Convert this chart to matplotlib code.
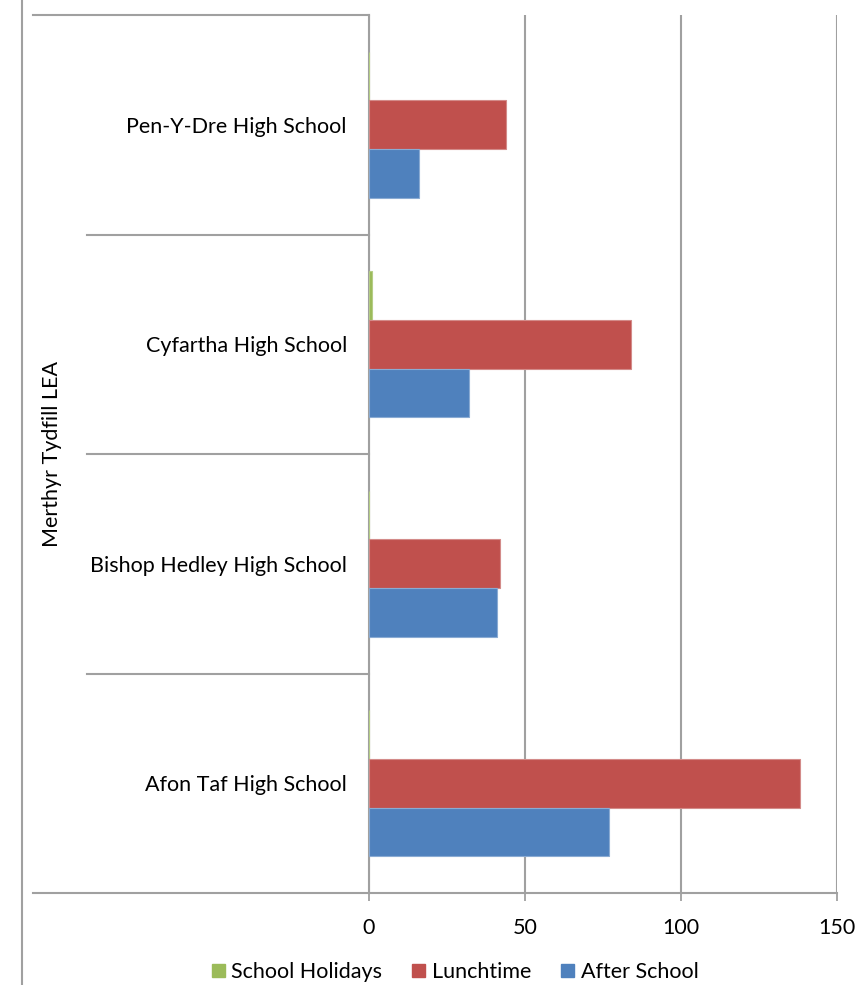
import numpy as np
import matplotlib.pyplot as plt
from matplotlib.lines import Line2D
from matplotlib.patches import Patch

schools = ['Afon Taf High School', 'Bishop Hedley High School',
           'Cyfartha High School', 'Pen-Y-Dre High School']
holidays = [0, 0, 1, 0]
lunchtime = [138, 42, 84, 44]
after_school = [77, 41, 32, 16]

green = '#9BBB59'
red = '#C0504D'
blue = '#4F81BD'
grey = '#A0A0A0'

plt.rcParams['font.family'] = ['Lato', 'DejaVu Sans']
fs = 15.5

W, H = 859, 985
fig = plt.figure(figsize=(W / 100, H / 100), dpi=100)
x0, x1, ytop, ybot = 369, 837, 15, 893
ax = fig.add_axes([x0 / W, 1 - ybot / H, (x1 - x0) / W, (ybot - ytop) / H])

y = np.arange(len(schools))
h = 0.222
ax.barh(y + h, holidays, h, color=green, edgecolor='#B5CD85', linewidth=0.8, zorder=3)
ax.barh(y, lunchtime, h, color=red, edgecolor='#D38B89', linewidth=0.8, zorder=3)
ax.barh(y - h, after_school, h, color=blue, edgecolor='#8AABD3', linewidth=0.8, zorder=3)

ax.set_xlim(0, 150)
ax.set_ylim(-0.5, 3.5)
ax.set_xticks([0, 50, 100, 150])
ax.set_yticks(y)
ax.set_yticklabels(schools, fontsize=fs)
ax.tick_params(axis='y', length=0, pad=16)
ax.tick_params(axis='x', length=6, width=1.3, color=grey, pad=12, labelsize=fs)
ax.grid(axis='x', color=grey, linewidth=1.5, zorder=0)
for s in ['top', 'right', 'bottom']:
    ax.spines[s].set_visible(False)
ax.spines['left'].set_color(grey)
ax.spines['left'].set_linewidth(1.5)

# category separators and outer frame lines
trans = ax.get_yaxis_transform()
left_sep = (87 - x0) / (x1 - x0)
left_out = (33 - x0) / (x1 - x0)
for yy in [0.5, 1.5, 2.5]:
    ax.plot([left_sep, 0], [yy, yy], color=grey, lw=1.5, transform=trans, clip_on=False)
ax.plot([left_out, 0], [3.5, 3.5], color=grey, lw=1.5, transform=trans, clip_on=False)
ax.plot([left_out, 1], [-0.5, -0.5], color=grey, lw=1.5, transform=trans, clip_on=False)

ax.text((52 - x0) / (x1 - x0), 0.5, 'Merthyr Tydfill LEA', rotation=90,
        transform=ax.transAxes, ha='center', va='center', fontsize=fs)

fig.add_artist(Line2D([22 / W, 22 / W], [0, 1], color=grey, lw=1.5))

handles = [Patch(color=green), Patch(color=red), Patch(color=blue)]
fig.legend(handles, ['School Holidays', 'Lunchtime', 'After School'],
           loc='center', bbox_to_anchor=(455 / W, 1 - 972 / H), ncol=3,
           frameon=False, fontsize=fs, handlelength=0.6, handleheight=0.6,
           handletextpad=0.3, columnspacing=1.4)

fig.savefig('out.png', dpi=100)
